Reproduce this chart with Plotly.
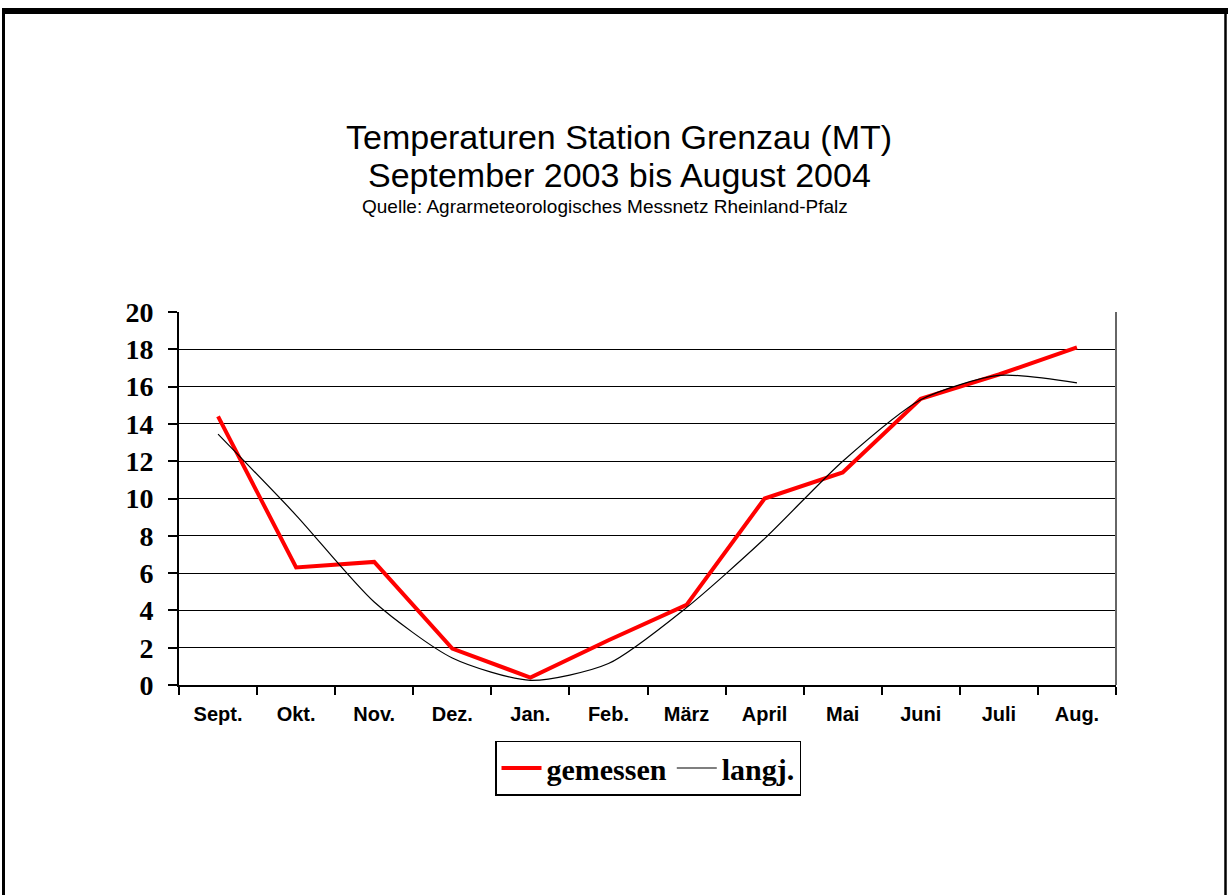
import plotly.graph_objects as go

months = ["Sept.", "Okt.", "Nov.", "Dez.", "Jan.", "Feb.", "März", "April", "Mai", "Juni", "Juli", "Aug."]
gemessen = [14.4, 6.3, 6.6, 1.95, 0.4, 2.4, 4.3, 10.0, 11.4, 15.35, 16.65, 18.1]
langj = [13.45, 9.1, 4.45, 1.45, 0.25, 1.15, 4.15, 7.85, 12.0, 15.3, 16.6, 16.2]
y_ticks = [0, 2, 4, 6, 8, 10, 12, 14, 16, 18, 20]

W, H = 1229, 895
L, R, T, B = 179, 1116, 312, 685

fig = go.Figure()
fig.add_trace(go.Scatter(x=months, y=gemessen, name="gemessen", mode="lines",
                         line=dict(color="#ff0000", width=4)))
fig.add_trace(go.Scatter(x=months, y=langj, name="langj.", mode="lines",
                         line=dict(color="#000000", width=1.2, shape="spline", smoothing=0.7)))

def px(x):
    return (x - L) / (R - L)

def py(y):
    return (B - y) / (B - T)

shapes = [
    # outer frame
    dict(type="line", xref="paper", yref="paper", x0=px(3.5), x1=px(3.5), y0=py(8), y1=py(905),
         line=dict(color="black", width=3)),
    dict(type="line", xref="paper", yref="paper", x0=px(2), x1=px(1228), y0=py(11), y1=py(11),
         line=dict(color="black", width=6)),
    dict(type="line", xref="paper", yref="paper", x0=px(1225.5), x1=px(1225.5), y0=py(8), y1=py(905),
         line=dict(color="black", width=2.5)),
    # right plot border
    dict(type="line", xref="paper", yref="paper", x0=1, x1=1, y0=0, y1=1,
         line=dict(color="#666666", width=2)),
]

annotations = [
    dict(text="Temperaturen Station Grenzau (MT)", xref="paper", yref="paper", x=px(619), y=py(137),
         xanchor="center", yanchor="middle", showarrow=False,
         font=dict(family="Liberation Sans, Arial", size=34, color="black")),
    dict(text="September 2003 bis August 2004", xref="paper", yref="paper", x=px(619), y=py(175),
         xanchor="center", yanchor="middle", showarrow=False,
         font=dict(family="Liberation Sans, Arial", size=34, color="black")),
    dict(text="Quelle: Agrarmeteorologisches Messnetz Rheinland-Pfalz", xref="paper", yref="paper",
         x=px(605), y=py(206), xanchor="center", yanchor="middle", showarrow=False,
         font=dict(family="Liberation Sans, Arial", size=19, color="black")),
]

fig.update_layout(
    width=W, height=H,
    margin=dict(l=L, r=W - R, t=T, b=H - B, autoexpand=False),
    paper_bgcolor="white", plot_bgcolor="white",
    showlegend=True,
    legend=dict(orientation="h", x=px(648), xanchor="center", y=py(768), yanchor="middle",
                bordercolor="black", borderwidth=1.5, bgcolor="white",
                font=dict(family="Liberation Serif, Times New Roman", size=30, color="black",
                          weight="bold"),
                itemwidth=40, tracegroupgap=0),
    shapes=shapes,
    annotations=annotations,
    xaxis=dict(
        type="category", tickson="boundaries", ticks="outside", ticklen=8, tickcolor="black",
        tickwidth=1.5, showline=True, linecolor="black", linewidth=2, showgrid=False,
        tickfont=dict(family="Liberation Sans, Arial", size=20, color="black", weight="bold"),
        ticklabelstandoff=10, zeroline=False, range=[-0.5, 11.5],
    ),
    yaxis=dict(
        range=[0, 20], tickvals=y_ticks, ticks="outside", ticklen=9, tickcolor="black",
        tickwidth=1.5, showline=True, linecolor="black", linewidth=2,
        showgrid=True, gridcolor="black", gridwidth=1.2, zeroline=False,
        tickfont=dict(family="Liberation Serif, Times New Roman", size=28, color="black", weight="bold"),
        ticklabelstandoff=9,
    ),
)

fig.write_html("out.html", config={"displayModeBar": False},
               post_script="document.body.style.margin='0';")
